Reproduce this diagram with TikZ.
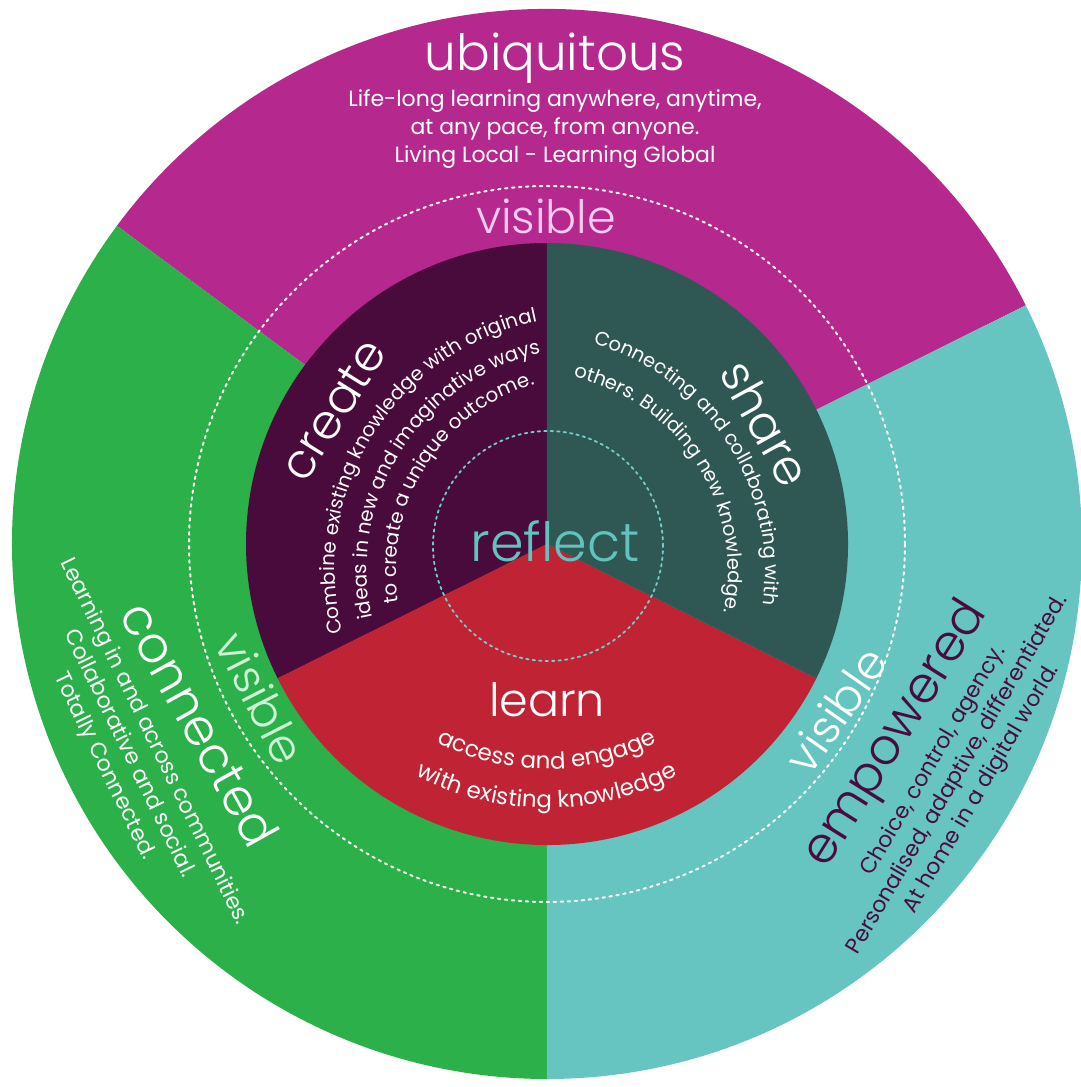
\documentclass[tikz,border=0pt]{standalone}
\usepackage{fontspec}
\setmainfont{Poppins Light}
\newfontfamily\smallfont{Poppins}
\usetikzlibrary{decorations.text}
\definecolor{ubiq}{HTML}{B5298F}
\definecolor{conn}{HTML}{2BB04A}
\definecolor{empw}{HTML}{66C5C1}
\definecolor{crea}{HTML}{490B3B}
\definecolor{shar}{HTML}{2F5855}
\definecolor{lern}{HTML}{C02334}
\definecolor{refl}{HTML}{61C2BE}
\definecolor{pinkvis}{HTML}{F6CDEE}
\definecolor{greenvis}{HTML}{CFF2D6}
\definecolor{purptxt}{HTML}{4A0C40}
\newcommand{\fs}[1]{\fontsize{#1}{#1}\selectfont}
\begin{document}
\begin{tikzpicture}[x=1pt, y=1pt, line cap=round,
  title/.style={font=\fs{50}, white},
  word/.style={font=\fs{48}, white},
  vis/.style={font=\fs{46}},
  blurb/.style={font=\smallfont\fontsize{22}{27.8}\selectfont, white, align=center},
  curved/.style 2 args={decorate, decoration={text along path, text align=center, text color=white, text={|\smallfont\fs{#1}|#2}}}]
 \useasboundingbox (-547,-543) rectangle (533,544);
 % outer ring
 \fill[ubiq] (0,0)--(26.5:535) arc[start angle=26.5, end angle=143.5, radius=535]--cycle;
 \fill[conn] (0,0)--(143.5:535) arc[start angle=143.5, end angle=270, radius=535]--cycle;
 \fill[empw] (0,0)--(270:535) arc[start angle=270, end angle=386.5, radius=535]--cycle;
 % inner disc
 \fill[crea] (0,0)--(90:301) arc[start angle=90, end angle=206.5, radius=301]--cycle;
 \fill[lern] (0,0)--(206.5:301) arc[start angle=206.5, end angle=333.5, radius=301]--cycle;
 \fill[shar] (0,0)--(-26.5:301) arc[start angle=-26.5, end angle=90, radius=301]--cycle;
 \draw[white, line width=2pt, dash pattern=on 2.5pt off 4.5pt] (0,0) circle[radius=358];
 \draw[refl!85!white, line width=1.8pt, dash pattern=on 2.5pt off 4pt] (1,-2) circle[radius=115];
 \node[font=\fs{54}, refl] (reflect) at (8,3) {reflect};
 \node[word, rotate=58] (create) at (-214,134) {create};
 \node[word, rotate=-61] (share) at (219,121) {share};
 \node[word, font=\fs{46}] (learn) at (0,-156) {learn};
 \path[curved={19.8}{Combine existing knowledge with original}] ([shift={(42,-26)}]205:254) arc[start angle=205, end angle=91, radius=254];
 \path[curved={19.8}{ideas in new and imaginative ways}] ([shift={(42,-26)}]205:222) arc[start angle=205, end angle=90, radius=222];
 \path[curved={19.8}{to create a unique outcome.}] ([shift={(42,-26)}]205:193) arc[start angle=205, end angle=91, radius=193];
 \path[curved={19.5}{Connecting and collaborating with}] ([shift={(-18,-27)}]90:236) arc[start angle=90, end angle=-24, radius=236];
 \path[curved={19.5}{others. Building new knowledge.}] ([shift={(-18,-27)}]90:199) arc[start angle=90, end angle=-25, radius=199];
 \path[curved={23}{access and engage}] ([shift={(0,16)}]225:241) arc[start angle=225, end angle=315, radius=241];
 \path[curved={23}{with existing knowledge}] ([shift={(0,16)}]225:280) arc[start angle=225, end angle=315, radius=280];
 % ubiquitous
 \node[title, anchor=base] (ubiquitous) at (8,473) {ubiquitous};
 \node[blurb] (ubiqtext) at (8,415) {Life-long learning anywhere, anytime,\\at any pace, from anyone.\\Living Local - Learning Global};
 \node[vis, pinkvis, anchor=base] (vistop) at (-1,310) {visible};
 % connected
 \node[vis, greenvis, rotate=-63] (visleft) at (-286,-154) {visible};
 \node[title, rotate=-61] (connected) at (-347,-180) {connected};
 \node[blurb, rotate=-64] (conntext) at (-418,-210) {Learning in and across communities.\\Collaborative and social.\\Totally Connected.};
 % empowered
 \node[vis, white, rotate=55] (visright) at (289,-166) {visible};
 \node[title, purptxt, rotate=58] (empowered) at (350,-191) {empowered};
 \node[blurb, purptxt, rotate=59.5] (empwtext) at (411,-231) {Choice, control, agency.\\Personalised, adaptive, differentiated.\\At home in a digital world.};
\end{tikzpicture}
\end{document}
